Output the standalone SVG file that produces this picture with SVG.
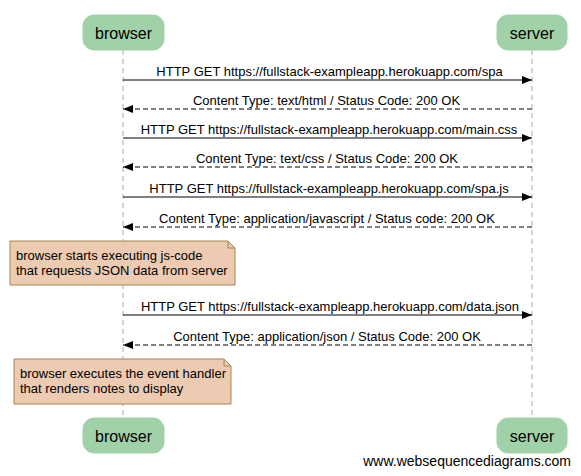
<svg xmlns="http://www.w3.org/2000/svg" width="581" height="476" viewBox="0 0 581 476">
<defs>
<marker id="ah" markerWidth="10" markerHeight="8" refX="10" refY="4" orient="auto" markerUnits="userSpaceOnUse">
<path d="M0,0 L10,4 L0,8 Z" fill="#000"/>
</marker>
<style>
.actor{fill:#a1d1a9;stroke:#a1d1a9;}
.atext{font-family:"Liberation Sans",Arial,sans-serif;font-size:16px;fill:#000;text-anchor:middle;}
.life{stroke:#aaa;stroke-width:1;stroke-dasharray:5,4;fill:none;}
.msg{stroke:#000;stroke-width:1;fill:none;marker-end:url(#ah);}
.ret{stroke-dasharray:5,3;}
.mtext{font-family:"Liberation Sans",Arial,sans-serif;font-size:13px;fill:#000;text-anchor:middle;}
.note{fill:#edcbb2;stroke:#a58453;stroke-width:1;}
.ntext{font-family:"Liberation Sans",Arial,sans-serif;font-size:13px;fill:#000;}
</style>
</defs>
<rect width="581" height="476" fill="#fff"/>
<g id="lifelines">
<line class="life" x1="123" y1="50" x2="123" y2="418"/>
<line class="life" x1="532" y1="50" x2="532" y2="418"/>
</g>
<g id="browser-top"><rect class="actor" x="83" y="15" width="81" height="35" rx="11"/><text class="atext" x="123.5" y="39">browser</text></g>
<g id="server-top"><rect class="actor" x="497" y="15" width="70" height="35" rx="11"/><text class="atext" x="532" y="39">server</text></g>
<g id="browser-bottom"><rect class="actor" x="83" y="418" width="81" height="35" rx="11"/><text class="atext" x="123.5" y="442">browser</text></g>
<g id="server-bottom"><rect class="actor" x="497" y="418" width="70" height="35" rx="11"/><text class="atext" x="532" y="442">server</text></g>
<g id="connectors">
<line class="msg" x1="123" y1="80" x2="532" y2="80"/>
<text class="mtext" x="329.5" y="76">HTTP GET https://fullstack-exampleapp.herokuapp.com/spa</text>
<line class="msg ret" x1="532" y1="109" x2="123" y2="109"/>
<text class="mtext" x="326.5" y="105">Content Type: text/html / Status Code: 200 OK</text>
<line class="msg" x1="123" y1="138" x2="532" y2="138"/>
<text class="mtext" x="329" y="134">HTTP GET https://fullstack-exampleapp.herokuapp.com/main.css</text>
<line class="msg ret" x1="532" y1="167" x2="123" y2="167"/>
<text class="mtext" x="327" y="163">Content Type: text/css / Status Code: 200 OK</text>
<line class="msg" x1="123" y1="197" x2="532" y2="197"/>
<text class="mtext" x="329" y="193">HTTP GET https://fullstack-exampleapp.herokuapp.com/spa.js</text>
<line class="msg ret" x1="532" y1="227" x2="123" y2="227"/>
<text class="mtext" x="327" y="223">Content Type: application/javascript / Status code: 200 OK</text>
<line class="msg" x1="123" y1="315" x2="532" y2="315"/>
<text class="mtext" x="330" y="311">HTTP GET https://fullstack-exampleapp.herokuapp.com/data.json</text>
<line class="msg ret" x1="532" y1="345" x2="123" y2="345"/>
<text class="mtext" x="327" y="341">Content Type: application/json / Status Code: 200 OK</text>
</g>
<g id="note1">
<path class="note" d="M10,241 L228,241 L235,248 L235,285 L10,285 Z"/>
<path d="M228,241 L228,248 L235,248" fill="none" stroke="#a58453"/>
<text class="ntext" x="16" y="260">browser starts executing js-code</text>
<text class="ntext" x="16" y="275">that requests JSON data from server</text>
</g>
<g id="note2">
<path class="note" d="M14,359 L224,359 L231,366 L231,404 L14,404 Z"/>
<path d="M224,359 L224,366 L231,366" fill="none" stroke="#a58453"/>
<text class="ntext" x="20" y="378">browser executes the event handler</text>
<text class="ntext" x="20" y="393">that renders notes to display</text>
</g>
<text x="571" y="466" font-family="'Liberation Sans',Arial,sans-serif" font-size="14" text-anchor="end" fill="#000">www.websequencediagrams.com</text>
</svg>
